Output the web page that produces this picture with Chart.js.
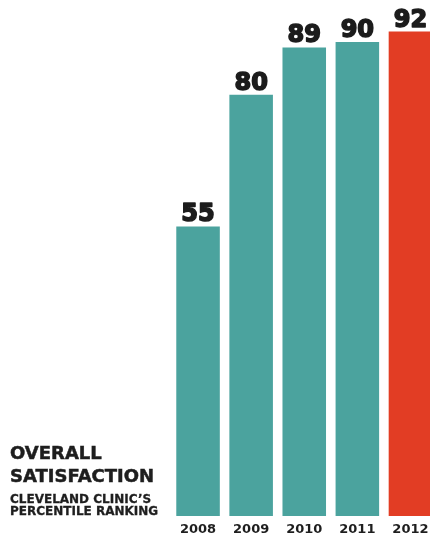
<!DOCTYPE html>
<html>
<head>
<meta charset="utf-8">
<script src="https://cdn.jsdelivr.net/npm/chart.js@4/dist/chart.umd.min.js"></script>
<style>
  html, body { margin: 0; padding: 0; background: #ffffff; width: 430px; height: 538px; overflow: hidden; }
  #wrap { position: relative; width: 437px; height: 538px; }
  #c { position: absolute; left: 0; top: 0; }
  .title { position: absolute; left: 10px; font-family: "DejaVu Sans", sans-serif; font-weight: bold; color: #1e1e1e; white-space: nowrap; -webkit-text-stroke: 0.5px #1e1e1e; }
  #t1 { top: 441px; font-size: 18px; line-height: 23px; }
  #t2 { top: 493px; font-size: 12px; line-height: 12px; -webkit-text-stroke: 0.3px #1e1e1e; }
</style>
</head>
<body>
<div id="wrap">
  <canvas id="c" width="437" height="538"></canvas>
  <div class="title" id="t1">OVERALL<br>SATISFACTION</div>
  <div class="title" id="t2">CLEVELAND CLINIC’S<br>PERCENTILE RANKING</div>
</div>
<script>
const categories = ["2008", "2009", "2010", "2011", "2012"];
const percentileRanking = [55, 80, 89, 90, 92];
const barColors = ["#4ba39e", "#4ba39e", "#4ba39e", "#4ba39e", "#e23d24"];

const valueLabels = {
  id: 'valueLabels',
  afterDatasetsDraw(chart) {
    const ctx = chart.ctx;
    ctx.save();
    ctx.font = 'bold 24px "DejaVu Sans", sans-serif';
    ctx.fillStyle = '#1c1c1c';
    ctx.strokeStyle = '#1c1c1c';
    ctx.lineWidth = 1.6;
    ctx.lineJoin = 'round';
    ctx.textAlign = 'center';
    ctx.textBaseline = 'alphabetic';
    chart.getDatasetMeta(0).data.forEach((bar, i) => {
      const t = String(percentileRanking[i]);
      ctx.fillText(t, bar.x, bar.y - 5);
      ctx.strokeText(t, bar.x, bar.y - 5);
    });
    ctx.restore();
  }
};

new Chart(document.getElementById('c'), {
  type: 'bar',
  data: {
    labels: categories,
    datasets: [{
      data: percentileRanking,
      backgroundColor: barColors,
      borderWidth: 0,
      barPercentage: 0.82,
      categoryPercentage: 1.0
    }]
  },
  options: {
    responsive: false,
    devicePixelRatio: 1,
    animation: false,
    layout: { padding: { left: 171.5, right: 0, top: 0, bottom: 0 } },
    plugins: { legend: { display: false }, tooltip: { enabled: false }, title: { display: false } },
    scales: {
      y: { display: false, min: 0, max: 98 },
      x: {
        grid: { display: false },
        border: { display: false },
        ticks: { color: '#1e1e1e', padding: -2, font: { family: '"DejaVu Sans", sans-serif', weight: 'bold', size: 13 } },
        afterFit(scale) { scale.height = 22; }
      }
    }
  },
  plugins: [valueLabels]
});
</script>
</body>
</html>
